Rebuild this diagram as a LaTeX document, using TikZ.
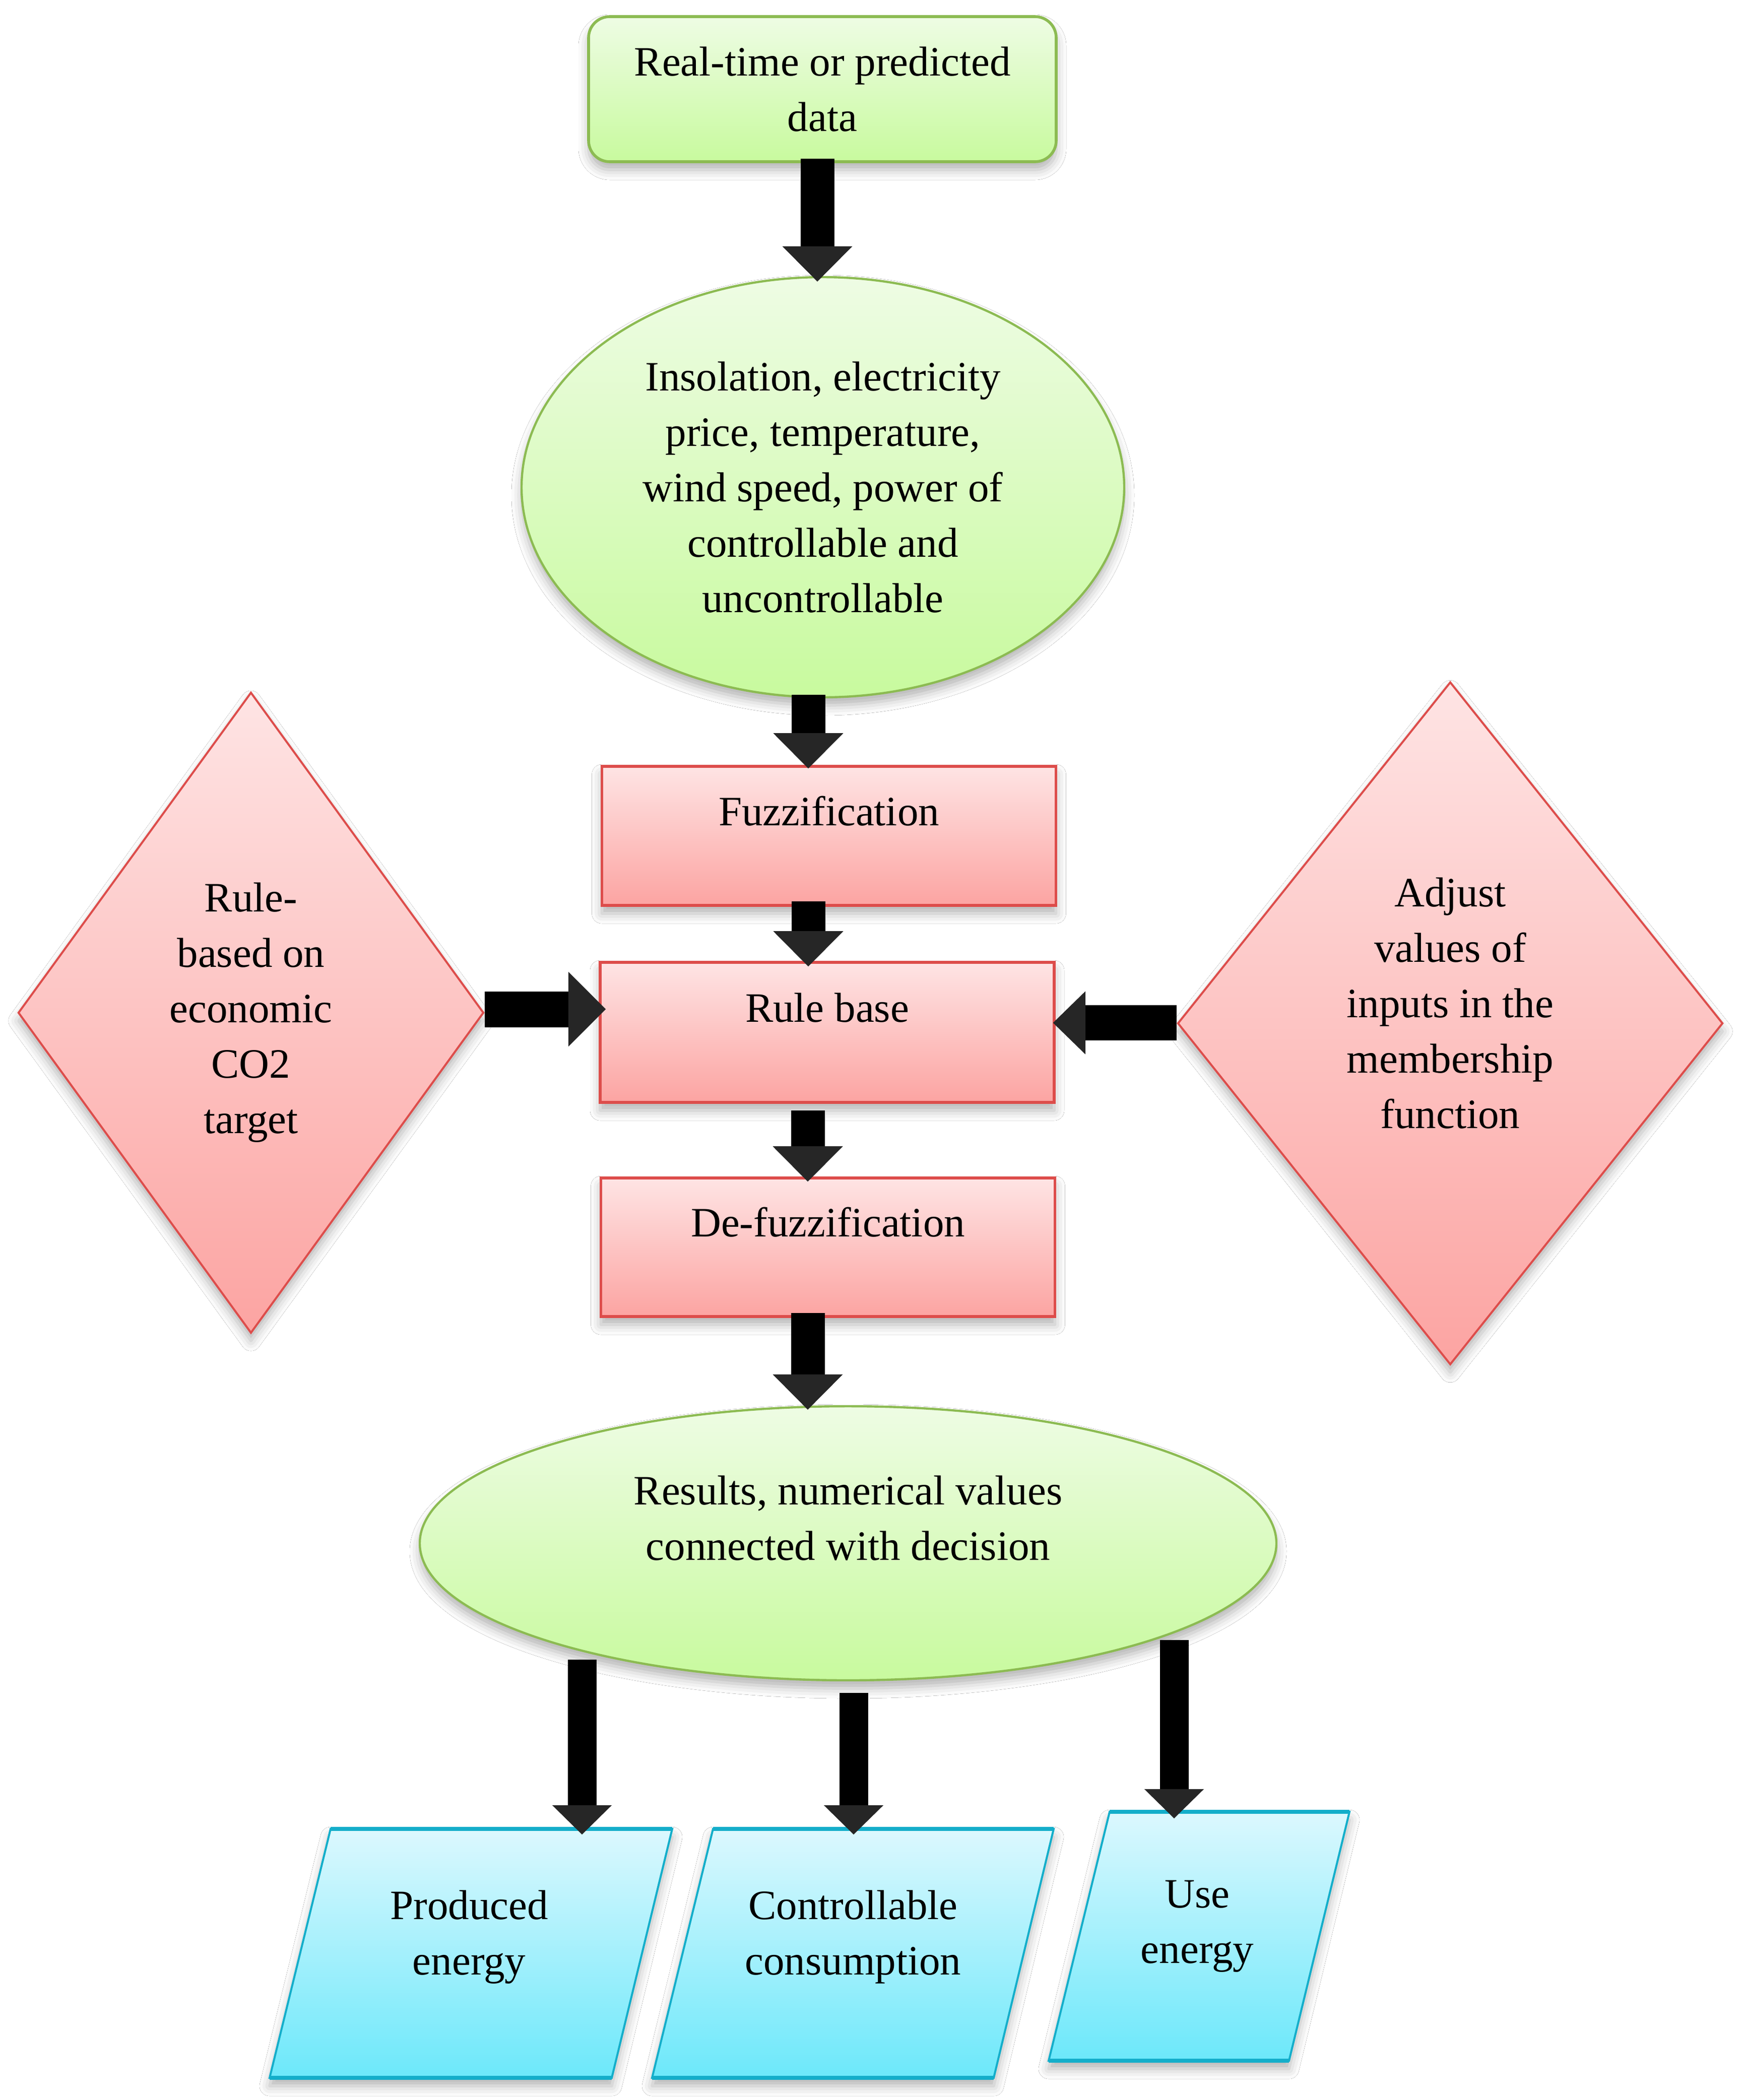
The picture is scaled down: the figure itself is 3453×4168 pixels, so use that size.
\documentclass[tikz,border=0pt]{standalone}
\usepackage{fontspec}
\setmainfont{Liberation Serif}
\usetikzlibrary{shapes.geometric,arrows.meta,calc,shadows.blur}
\definecolor{gborder}{RGB}{140,187,82}
\definecolor{gtop}{RGB}{238,252,228}
\definecolor{gbot}{RGB}{200,250,158}
\definecolor{rborder}{RGB}{221,77,75}
\definecolor{rtop}{RGB}{254,228,228}
\definecolor{rbot}{RGB}{252,164,162}
\definecolor{cborder}{RGB}{20,174,202}
\definecolor{ctop}{RGB}{220,248,254}
\definecolor{cbot}{RGB}{108,232,250}
\begin{document}
\begin{tikzpicture}[x=0.25pt,y=-0.25pt,
  txt/.style={font=\fontsize{20.75pt}{27.5pt}\selectfont, align=center, inner sep=0pt, text=black},
  shad/.style={blur shadow={shadow xshift=0pt,shadow yshift=-4pt,shadow blur radius=5pt,shadow opacity=30}},
  greenbox/.style={txt, shad, rectangle, rounded corners=10.5pt, draw=gborder, line width=1.4pt, top color=gtop, bottom color=gbot, minimum width=232pt, minimum height=72pt},
  greenell/.style={txt, shad, ellipse, draw=gborder, line width=1.1pt, top color=gtop, bottom color=gbot},
  redbox/.style={txt, shad, rectangle, draw=rborder, line width=1.4pt, top color=rtop, bottom color=rbot, minimum width=225.25pt, minimum height=69pt, text height=15pt, text depth=25.5pt},
  reddia/.style={txt, shad, diamond, draw=rborder, line width=1pt, top color=rtop, bottom color=rbot},
  cyanpar/.style={shad, draw=cborder, line width=1pt, top color=ctop, bottom color=cbot},
  cyanedge/.style={draw=cborder, line width=2pt},
  vflow/.style={line width=16.75pt,-{Triangle[width=34.75pt,length=17.5pt,line width=0pt]}},
  hflow/.style={line width=17.75pt,-{Triangle[width=37pt,length=18.5pt,line width=0pt]}},
  hflowb/.style={line width=17.5pt,-{Triangle[width=31.25pt,length=16pt,line width=0pt]}},
  oflow/.style={line width=14.25pt,-{Triangle[width=29.5pt,length=14.5pt,line width=0pt]}}
]
\useasboundingbox (0,0) rectangle (3453,4168);
\fill[white] (0,0) rectangle (3453,4168);

% top box and first ellipse
\node[greenbox] (top) at (1632,177) {Real-time or predicted\\data};
\node[greenell, minimum width=299pt, minimum height=208.5pt] (ell1) at (1633,967)
  {Insolation, electricity\\price, temperature,\\wind speed, power of\\controllable and\\uncontrollable};

% fuzzy blocks
\node[redbox] (fuzz) at (1645,1659) {Fuzzification};
\node[redbox, minimum height=69.5pt] (rule) at (1641.5,2049) {Rule base};
\node[redbox, minimum height=68.75pt] (defuzz) at (1643,2475.5) {De-fuzzification};

% diamonds
\node[reddia, aspect=0.73, minimum width=231pt, minimum height=318pt] (ldia) at (498,2010)
  {Rule-\\based on\\economic\\CO2\\target};
\node[reddia, aspect=0.8, minimum width=270.5pt, minimum height=338.75pt] (rdia) at (2878,2031)
  {Adjust\\values of\\inputs in the\\membership\\function\\[-7.25pt]\mbox{}};

% results ellipse
\node[greenell, minimum width=425pt, minimum height=136pt] (ell2) at (1683,3063)
  {Results, numerical values\\connected with decision\\[-2.5pt]\mbox{}};

% parallelograms
\coordinate (p1tl) at (656,3630);  \coordinate (p1tr) at (1334,3630);
\coordinate (p1br) at (1214,4124); \coordinate (p1bl) at (535,4124);
\coordinate (p2tl) at (1415,3630); \coordinate (p2tr) at (2091,3630);
\coordinate (p2br) at (1972,4124); \coordinate (p2bl) at (1294,4124);
\coordinate (p3tl) at (2202,3596); \coordinate (p3tr) at (2678,3596);
\coordinate (p3br) at (2558,4090); \coordinate (p3bl) at (2081,4090);
\path[cyanpar] (p1tl) -- (p1tr) -- (p1br) -- (p1bl) -- cycle;
\path[cyanpar] (p2tl) -- (p2tr) -- (p2br) -- (p2bl) -- cycle;
\path[cyanpar] (p3tl) -- (p3tr) -- (p3br) -- (p3bl) -- cycle;
\draw[cyanedge] (p1tl) -- (p1tr) (p1bl) -- (p1br);
\draw[cyanedge] (p2tl) -- (p2tr) (p2bl) -- (p2br);
\draw[cyanedge] (p3tl) -- (p3tr) (p3bl) -- (p3br);
\node[txt] (p1) at (931,3877) {Produced\\energy\\[-7pt]\mbox{}};
\node[txt] (p2) at (1693,3877) {Controllable\\consumption\\[-7pt]\mbox{}};
\node[txt] (p3) at (2376,3843) {Use\\energy\\[-13.25pt]\mbox{}};
\coordinate (p1in) at (1155,3641);
\coordinate (p2in) at (1694,3641);
\coordinate (p3in) at (2330,3609);

% connectors
\draw[vflow] ($(top.south)+(-10,-9)$) -- ($(ell1.north)+(-11,11)$);
\draw[vflow] ($(ell1.south)+(-29,-7)$) -- ($(fuzz.north)+(-41,7)$);
\draw[vflow] ($(fuzz.south)+(-41,-11)$) -- ($(rule.north)+(-37.5,11)$);
\draw[vflow] ($(rule.south)+(-38.5,13)$) -- ($(defuzz.north)+(-40,10)$);
\draw[vflow] ($(defuzz.south)+(-40,-10)$) -- ($(ell2.north)+(-80,9)$);
\draw[hflow] ($(ldia.east)+(0,-7)$) -- ($(rule.west)+(14,-46)$);
\draw[hflowb] ($(rdia.west)+(0,-1)$) -- ($(rule.east)+(-5,-19)$);
\draw[oflow] ($(ell2.center)+(-528,231)$) -- (p1in);
\draw[oflow] ($(ell2.center)+(11,297)$) -- (p2in);
\draw[oflow] ($(ell2.center)+(647,192)$) -- (p3in);
\end{tikzpicture}
\end{document}
